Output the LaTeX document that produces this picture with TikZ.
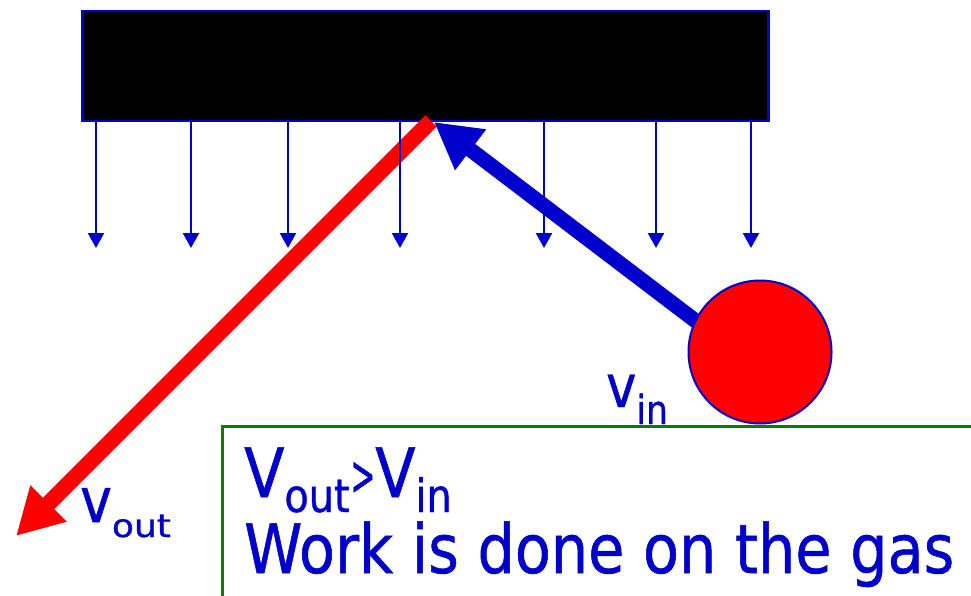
\documentclass[tikz,border=0pt]{standalone}
\usepackage{fontspec}
\usepackage{graphicx}
\newfontfamily\cf{DejaVu Sans}[FakeStretch=0.865,FakeBold=0.8]
\usetikzlibrary{arrows.meta}
\definecolor{tblue}{RGB}{0,0,204}
\definecolor{tgreen}{RGB}{0,128,0}
\definecolor{tred}{RGB}{255,0,0}
\newcommand{\lowtxt}[3]{\raisebox{-#1pt}{\fontsize{#2}{#2}\selectfont #3}}
\begin{document}
\begin{tikzpicture}[x=1pt,y=-1pt,
  lbl/.style={text=tblue, inner sep=0pt, anchor=base west, font=\cf},
  fall/.style={draw=tblue, line width=2.4pt, -{Triangle[length=15pt,width=16pt]}},
  fat/.style={-{Triangle[length=46pt,width=48pt]}}]
\useasboundingbox (0,0) rectangle (971,596);
\clip (0,0) rectangle (971,596);
% piston plate
\node[draw=tblue, fill=black, line width=2.5pt, inner sep=0pt, anchor=north west,
      minimum width=686pt, minimum height=110pt] (plate) at (81,10) {};
% outgoing velocity
\coordinate (hit) at (431,121);
\coordinate (outend) at (16,536);
\draw[fat, line width=16pt, draw=tred, fill=tred] (hit) -- (outend);
% force arrows
\foreach \x [count=\i] in {96,191,288,400,544,656,751}{
  \coordinate (ft\i) at (\x,121);
  \coordinate (fb\i) at (\x,248);
  \draw[fall, fill=tblue] (ft\i) -- (fb\i);
}
% incoming velocity
\coordinate (ballc) at (760,352);
\coordinate (instart) at (722,341);
\coordinate (intip) at (434,122);
\draw[fat, line width=15pt, draw=tblue, fill=tblue] (instart) -- (intip);
\node[circle, draw=tblue, fill=tred, line width=2pt, inner sep=0pt, minimum size=143pt] (ball) at (ballc) {};
% labels
\node[lbl, font=\cf\fontsize{59}{59}\selectfont] (vin) at (606,407) {v\lowtxt{17}{40}{in}};
\node[lbl, font=\cf\fontsize{62}{62}\selectfont] (vout) at (80,522) {v\raisebox{-15pt}{\scalebox{1.04}[0.8]{\fontsize{40}{40}\selectfont out}}};
% text box
\node[draw=tgreen, line width=2.5pt, inner sep=0pt, anchor=north west,
      minimum width=800pt, minimum height=200pt] (box) at (221,425) {};
\node[lbl, font=\cf\fontsize{68}{68}\selectfont] (cmp) at (244,497)
  {V\lowtxt{15}{46}{out}\kern1pt\raisebox{2pt}{\scalebox{0.5}[0.83]{>}}V\lowtxt{15}{46}{in}};
\node[lbl, font=\cf\fontsize{68}{68}\selectfont] (work) at (244,573) {Work is done on the gas};
\end{tikzpicture}
\end{document}
